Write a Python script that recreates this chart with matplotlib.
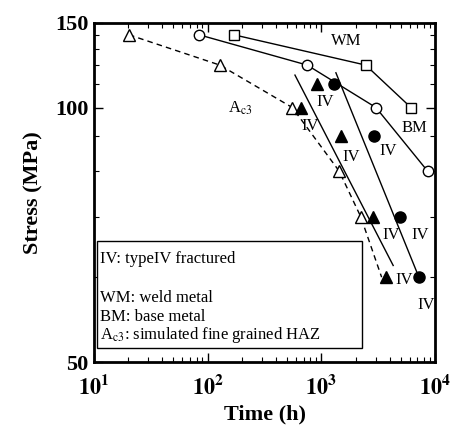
import numpy as np
import matplotlib
matplotlib.use('Agg')
import matplotlib.pyplot as plt
from matplotlib.patches import Rectangle
from matplotlib.ticker import FixedLocator, NullFormatter

plt.rcParams['font.family'] = ['Liberation Serif', 'DejaVu Serif']
plt.rcParams['mathtext.fontset'] = 'stix'

# weld metal
wm_t = [170, 2455, 6140]
wm_s = [140, 120, 100]
# base metal
bm_t = [84, 751, 3020, 8610]
bm_s = [140, 120, 100, 80]
# Ac3 simulated HAZ (open triangles) + dashed curve end
ac3_t = [20.3, 128, 555, 1435, 2218]
ac3_s = [140, 120, 100, 80, 70]
ac3_end_t = 3390
ac3_end_s = 60
# type IV fractured welded joints
iv_tri_t = [908, 658, 1479, 2826, 3700]
iv_tri_s = [110, 100, 90, 70, 60]
iv_cir_t = [1297, 2884, 4909, 7260]
iv_cir_s = [110, 90, 70, 60]
# fitted lines
fit1_t = [586, 4285]
fit1_s = [114.6, 61.7]
fit2_t = [1343, 6890]
fit2_s = [115.8, 60.8]

# IV label positions
iv_lab_t = [1077, 802, 1845, 3871, 4150, 7363, 5321, 8436]
iv_lab_s = [102.3, 93.2, 83.8, 85.5, 66.6, 66.6, 59.6, 56.3]

x_minor = [m * d for d in (10, 100, 1000) for m in range(2, 10)]
y_minor = [60, 70, 80, 90, 110, 120, 130, 140]


def fwd(s):
    s = np.asarray(s, dtype=float)
    with np.errstate(divide='ignore'):
        return -1.0 / s


def inv(v):
    v = np.asarray(v, dtype=float)
    with np.errstate(divide='ignore'):
        return -1.0 / v


fig = plt.figure(figsize=(4.57, 4.32), dpi=100)
ax = fig.add_axes([0.2057, 0.162, 0.7462, 0.7855])
ax.set_xscale('log')
ax.set_yscale('function', functions=(fwd, inv))
ax.set_xlim(10, 1e4)
ax.set_ylim(50, 150)

lw = 1.0
ax.plot(wm_t, wm_s, '-', color='black', lw=lw, marker='s', ms=7.5,
        mfc='white', mec='black', mew=1.0)
ax.plot(bm_t, bm_s, '-', color='black', lw=lw, marker='o', ms=7.5,
        mfc='white', mec='black', mew=1.0)
ax.plot(ac3_t + [ac3_end_t], ac3_s + [ac3_end_s], '--', color='black',
        lw=lw, dashes=(4, 3))
ax.plot(ac3_t, ac3_s, '^', ms=9, mfc='white', mec='black', mew=1.0)
ax.plot(fit1_t, fit1_s, '-', color='black', lw=lw)
ax.plot(fit2_t, fit2_s, '-', color='black', lw=lw)
ax.plot(iv_tri_t, iv_tri_s, '^', ms=9, color='black')
ax.plot(iv_cir_t, iv_cir_s, 'o', ms=8, color='black')

fs = 12
ax.text(1667, 135.6, 'WM', fontsize=fs, ha='center', va='center')
ax.text(6650, 92.4, 'BM', fontsize=fs, ha='center', va='center')
ax.text(192, 99.8, r'A$_{\rm c3}$', fontsize=fs, ha='center', va='center')
for t, s in zip(iv_lab_t, iv_lab_s):
    ax.text(t, s, 'IV', fontsize=fs, ha='center', va='center')

# explanation box
ax.add_patch(Rectangle((0.0097, 0.040), 0.775, 0.3175, transform=ax.transAxes,
                       facecolor='white', edgecolor='black', lw=1.0, zorder=3))
ax.text(0.018, 0.3036, 'IV: typeIV fractured', transform=ax.transAxes,
        fontsize=fs, va='center', zorder=4)
ax.text(0.018, 0.1886, 'WM: weld metal', transform=ax.transAxes,
        fontsize=fs, va='center', zorder=4)
ax.text(0.018, 0.1335, 'BM: base metal', transform=ax.transAxes,
        fontsize=fs, va='center', zorder=4)
ax.text(0.018, 0.0796, r'A$_{\rm c3}$: simulated fine grained HAZ',
        transform=ax.transAxes, fontsize=fs, va='center', zorder=4)

# ticks
ax.set_xticks([10, 100, 1000, 10000])
ax.set_xticklabels([r'$\mathbf{10^{1}}$', r'$\mathbf{10^{2}}$',
                    r'$\mathbf{10^{3}}$', r'$\mathbf{10^{4}}$'], fontsize=16)
ax.xaxis.set_minor_locator(FixedLocator(x_minor))
ax.xaxis.set_minor_formatter(NullFormatter())
ax.set_yticks([50, 100, 150])
ax.set_yticklabels(['50', '100', '150'], fontsize=16, fontweight='bold')
ax.yaxis.set_minor_locator(FixedLocator(y_minor))
ax.yaxis.set_minor_formatter(NullFormatter())
ax.tick_params(which='both', direction='in', top=True, right=True)
ax.tick_params(which='major', length=6.5, width=1.0, pad=4)
ax.tick_params(which='minor', length=3.5, width=0.8)
ax.tick_params(axis='x', which='major', pad=9)
for sp in ax.spines.values():
    sp.set_linewidth(2.0)

ax.set_xlabel('Time (h)', fontsize=16, fontweight='bold', labelpad=4)
ax.set_ylabel('Stress (MPa)', fontsize=16, fontweight='bold', labelpad=8)

fig.savefig('out.png', dpi=100)
